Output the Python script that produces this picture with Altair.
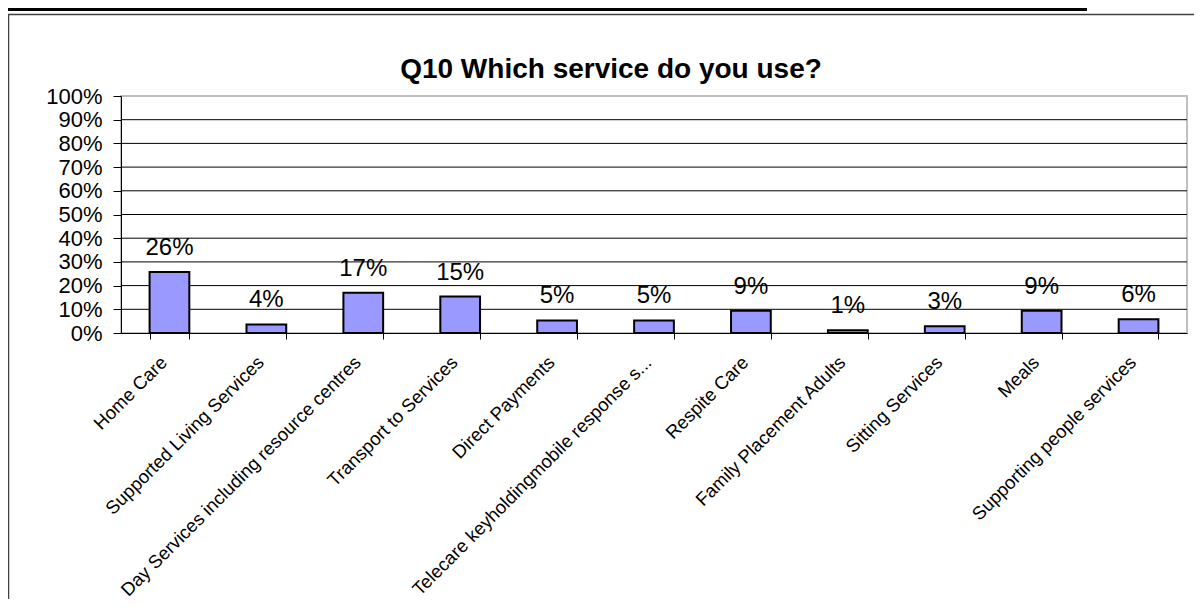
import altair as alt
import pandas as pd

# ---- data ----
categories = [
    "Home Care",
    "Supported Living Services",
    "Day Services including resource centres",
    "Transport to Services",
    "Direct Payments",
    "Telecare keyholdingmobile response s...",
    "Respite Care",
    "Family Placement Adults",
    "Sitting Services",
    "Meals",
    "Supporting people services",
]
values = [0.257, 0.036, 0.170, 0.154, 0.053, 0.053, 0.094, 0.012, 0.029, 0.094, 0.058]
y_ticks = [0.0, 0.1, 0.2, 0.3, 0.4, 0.5, 0.6, 0.7, 0.8, 0.9, 1.0]
grid_values = [0.1, 0.2, 0.3, 0.4, 0.5, 0.6, 0.7, 0.8, 0.9]
title_text = "Q10 Which service do you use?"

FONT = "Liberation Sans"
W, H = 1066, 237
PAD_L, PAD_T, PAD_R, PAD_B = 113, 88, 7, 266

df = pd.DataFrame({"service": categories, "share": values})
grid_df = pd.DataFrame({"share": grid_values})
one = alt.Data(values=[{"k": 1}])

xscale = alt.Scale(domain=categories, paddingInner=0.59, paddingOuter=0.295)
yscale = alt.Scale(domain=[0, 1], nice=False)

x_enc = alt.X(
    "service:N",
    sort=categories,
    scale=xscale,
    axis=alt.Axis(
        title=None,
        labelAngle=-45,
        labelAlign="right",
        labelBaseline="middle",
        labelFontSize=18.5,
        labelFont=FONT,
        labelColor="black",
        labelPadding=20,
        labelOffset=-6,
        labelLimit=600,
        labelOverlap=False,
        tickBand="extent",
        tickSize=6,
        tickColor="black",
        domainColor="black",
    ),
)
y_enc = alt.Y(
    "share:Q",
    scale=yscale,
    axis=alt.Axis(
        title=None,
        values=y_ticks,
        format=".0%",
        grid=False,
        tickSize=8,
        tickColor="black",
        domainColor="black",
        labelFontSize=22,
        labelFont=FONT,
        labelColor="black",
        labelPadding=11,
        labelOverlap=False,
    ),
)

frame = alt.Chart(one).mark_rect(
    fillOpacity=0, stroke="#404040", strokeWidth=1.5
).encode(
    x=alt.value(-112.5), x2=alt.value(W + 300), y=alt.value(-81.5), y2=alt.value(H + 500)
)

top_line = alt.Chart(one).mark_rule(color="black", strokeWidth=3).encode(
    x=alt.value(-113), x2=alt.value(966), y=alt.value(-86.5)
)

title = alt.Chart(one).mark_text(
    text=title_text,
    font=FONT,
    fontSize=28,
    fontWeight="bold",
    color="black",
    align="center",
    baseline="alphabetic",
).encode(x=alt.value(611 - 121), y=alt.value(78 - 96))

grid = alt.Chart(grid_df).mark_rule(color="black", strokeWidth=1).encode(
    y=y_enc, x=alt.value(0), x2=alt.value(W)
)

bars = alt.Chart(df).mark_bar(fill="#9999FF", stroke="black", strokeWidth=2).encode(
    x=x_enc, y=y_enc
)

labels = alt.Chart(df).mark_text(
    baseline="alphabetic", dy=-17, fontSize=24, font=FONT, color="black"
).encode(
    x=x_enc,
    y=y_enc,
    text=alt.Text("share:Q", format=".0%"),
)

chart = (
    alt.layer(frame, top_line, title, grid, bars, labels)
    .properties(
        width=W,
        height=H,
        padding={"left": PAD_L, "top": PAD_T, "right": PAD_R, "bottom": PAD_B},
        autosize=alt.AutoSizeParams(type="none"),
        background="white",
    )
    .configure_view(stroke="#c0c0c0", strokeWidth=2)
)

chart.save("out.html", embed_options={"renderer": "svg", "actions": False})
